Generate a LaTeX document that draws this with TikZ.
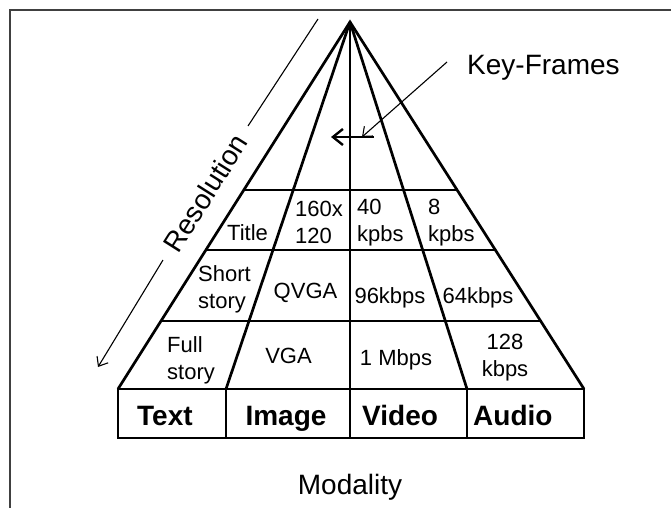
\documentclass[tikz,border=0pt]{standalone}
\usepackage{fontspec}
\setmainfont{Liberation Sans}
\usetikzlibrary{calc,arrows.meta}
\begin{document}
\begin{tikzpicture}[x=1pt,y=-1pt,
  heavy/.style={line width=2.7pt, line join=miter},
  light/.style={line width=1.1pt},
  barbtip/.style={-{Straight Barb[length=8pt,width=13pt,line width=1.1pt]}},
  cell/.style={inner sep=0pt, font=\fontsize{22}{27}\selectfont},
  head/.style={inner sep=0pt, font=\fontsize{28}{33}\selectfont\bfseries},
  big/.style={inner sep=0pt, font=\fontsize{28}{33}\selectfont}
]
\useasboundingbox (0,0) rectangle (671,508);
% frame
\coordinate (f0) at (671,10);
\coordinate (f1) at (10,10);
\coordinate (f2) at (10,508);
\draw[line width=1.5pt, black!75] (f0) -- (f1) -- (f2);

% pyramid
\coordinate (apex) at (350,22);
\coordinate (b0) at (118,389);
\coordinate (b1) at (226,389);
\coordinate (b2) at (350,389);
\coordinate (b3) at (467,389);
\coordinate (b4) at (584,389);
\coordinate (c0) at (118,438);
\coordinate (c1) at (226,438);
\coordinate (c2) at (350,438);
\coordinate (c3) at (467,438);
\coordinate (c4) at (584,438);
\path ($(apex)!0.4578!(b0)$) coordinate (l1) ($(apex)!0.4578!(b4)$) coordinate (r1);
\path ($(apex)!0.6213!(b0)$) coordinate (l2) ($(apex)!0.6213!(b4)$) coordinate (r2);
\path ($(apex)!0.8147!(b0)$) coordinate (l3) ($(apex)!0.8147!(b4)$) coordinate (r3);

\draw[heavy] (b0) -- (apex) -- (b4);
\draw[heavy] (apex) -- (b1);
\draw[heavy] (apex) -- (b2);
\draw[heavy] (apex) -- (b3);
\draw[heavy] (l1) -- (r1);
\draw[heavy] (l2) -- (r2);
\draw[heavy] (l3) -- (r3);
\draw[heavy] (b0) rectangle (c4);
\draw[heavy] (b1) -- (c1);
\draw[heavy] (b2) -- (c2);
\draw[heavy] (b3) -- (c3);

% cell texts
\node[cell, anchor=base] (title) at (247.5,240) {Title};
\node[cell, anchor=west, align=left] (qq) at (295,222) {160x\\120};
\node[cell, anchor=west, align=left] (v40) at (357,223) {40\\kpbs};
\node[cell, anchor=west, align=left] (a8) at (428,223) {8\\kpbs};
\node[cell, anchor=west, align=left] (short) at (198,289) {Short\\story};
\node[cell, anchor=base] (qvga) at (305.5,298) {QVGA};
\node[cell, anchor=base] (v96) at (390,303) {96kbps};
\node[cell, anchor=base] (a64) at (478,303) {64kbps};
\node[cell, anchor=west, align=left] (full) at (167,360) {Full\\story};
\node[cell, anchor=base] (vga) at (288.5,363) {VGA};
\node[cell, anchor=base] (v1m) at (396,365) {1 Mbps};
\node[cell, align=center] (a128) at (505,358) {128\\kbps};

% modality heads
\node[head, anchor=base west] (htext) at (137,425) {Text};
\node[head, anchor=base] (himage) at (286,425) {Image};
\node[head, anchor=base west] (hvideo) at (362,425) {Video};
\node[head, anchor=base west] (haudio) at (473,425) {Audio};

\node[big, anchor=base] (modality) at (350,494) {Modality};
\node[big, anchor=base west] (keyframes) at (467,75) {Key-Frames};

% key-frames arrows
\coordinate (k0) at (447,62);
\coordinate (k1) at (362,137);
\draw[light, barbtip] (k0) -- (k1);
\coordinate (k2) at (374,137);
\coordinate (k3) at (331,137);
\draw[line width=2.4pt, -{Straight Barb[length=10pt,width=16pt,line width=2.4pt]}] (k2) -- (k3);

% resolution
\coordinate (rs0) at (318,19);
\coordinate (rs1) at (248,126);
\coordinate (rs2) at (163,260);
\coordinate (rs3) at (98,367);
\draw[light] (rs0) -- (rs1);
\draw[light, barbtip] (rs2) -- (rs3);
\node[big, rotate=57.7] (resolution) at (205.5,193) {Resolution};
\end{tikzpicture}
\end{document}
